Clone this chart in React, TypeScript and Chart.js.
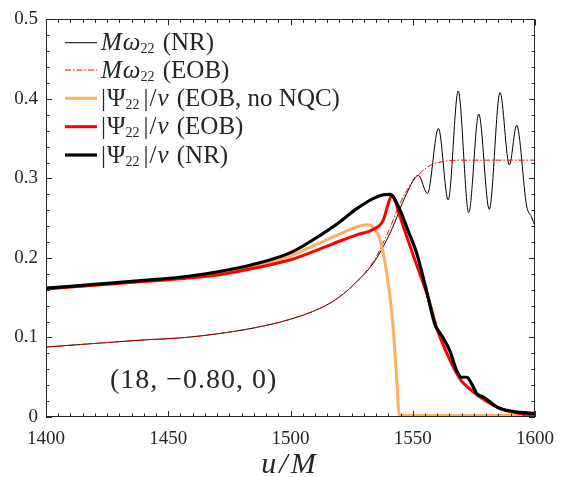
import React, { useEffect, useRef } from 'react';
import { Chart, registerables } from 'chart.js';

Chart.register(...registerables);

// ---------- data ----------
const omegaNRU = [1400, 1420, 1442.5, 1455, 1471, 1485, 1500, 1513, 1520, 1527, 1534, 1541, 1547.5, 1552.3, 1556, 1560.5, 1564.5, 1568.6, 1572.9, 1577, 1581.3, 1585.7, 1589.5, 1592.5, 1596.6, 1598.5, 1600];
const omegaNRV = [0.088, 0.0925, 0.0974, 0.0994, 0.105, 0.112, 0.123, 0.138, 0.151, 0.170, 0.194, 0.233, 0.281, 0.304, 0.281, 0.363, 0.273, 0.410, 0.257, 0.381, 0.261, 0.408, 0.317, 0.367, 0.265, 0.252, 0.240];

const omegaEOBU = [1400, 1420, 1442.5, 1455, 1471, 1485, 1500, 1513, 1520, 1527, 1534, 1540.7, 1544.8, 1550.2, 1557, 1563.9, 1570, 1580, 1600];
const omegaEOBV = [0.088, 0.0925, 0.0974, 0.0994, 0.105, 0.112, 0.123, 0.138, 0.151, 0.170, 0.196, 0.238, 0.269, 0.297, 0.316, 0.322, 0.323, 0.323, 0.323];

const psiNoNQCU = [1400, 1425, 1442.5, 1455, 1471, 1485, 1500, 1513.4, 1520, 1527.1, 1531.2, 1534, 1536.6, 1539.3, 1541.4, 1542.3, 1543.5, 1544.5, 1550, 1600];
const psiNoNQCV = [0.161, 0.167, 0.171, 0.1745, 0.180, 0.189, 0.2026, 0.221, 0.230, 0.239, 0.2417, 0.238, 0.223, 0.182, 0.132, 0.099, 0.045, 0.002, 0.002, 0.002];

const psiEOBU = [1400, 1425, 1442.5, 1455, 1471, 1485, 1500, 1513.4, 1520, 1527.1, 1533.9, 1538, 1540, 1541.4, 1542.6, 1544.8, 1550, 1556.4, 1559.8, 1565, 1569.3, 1575, 1580, 1585.7, 1593, 1600];
const psiEOBV = [0.161, 0.167, 0.171, 0.174, 0.179, 0.187, 0.1977, 0.213, 0.221, 0.229, 0.236, 0.248, 0.2686, 0.279, 0.274, 0.252, 0.205, 0.149, 0.112, 0.073, 0.048, 0.031, 0.020, 0.0107, 0.005, 0.0016];

const psiNRU = [1400, 1425, 1442.5, 1455, 1471, 1485, 1500, 1513.4, 1520, 1527.1, 1534, 1538, 1540.7, 1544.8, 1548, 1551.5, 1555.7, 1559.1, 1561.1, 1563.2, 1565.2, 1568, 1570, 1572.1, 1574.1, 1576.2, 1578.9, 1581.6, 1584.3, 1587, 1593.9, 1600];
const psiNRV = [0.162, 0.168, 0.1725, 0.1757, 0.183, 0.192, 0.2067, 0.231, 0.245, 0.262, 0.275, 0.2795, 0.280, 0.260, 0.235, 0.207, 0.158, 0.116, 0.1056, 0.0953, 0.083, 0.058, 0.050, 0.050, 0.0417, 0.0293, 0.025, 0.019, 0.0128, 0.0095, 0.0058, 0.0046];

const xTickValues = [1400, 1450, 1500, 1550, 1600];
const yTickValues = [0, 0.1, 0.2, 0.3, 0.4, 0.5];

type Part = { t: string; it?: boolean; sub?: boolean; gap?: number };
const legendNames: Part[][] = [
  [{ t: 'M', it: true, gap: 1 }, { t: 'ω', it: true }, { t: '22', sub: true, gap: 2 }, { t: ' (NR)' }],
  [{ t: 'M', it: true, gap: 1 }, { t: 'ω', it: true }, { t: '22', sub: true, gap: 2 }, { t: ' (EOB)' }],
  [{ t: '|', gap: 1 }, { t: 'Ψ' }, { t: '22', sub: true, gap: 4 }, { t: '|', gap: 1 }, { t: '/', gap: 1 }, { t: 'ν', it: true, gap: 2 }, { t: ' (EOB, no NQC)' }],
  [{ t: '|', gap: 1 }, { t: 'Ψ' }, { t: '22', sub: true, gap: 4 }, { t: '|', gap: 1 }, { t: '/', gap: 1 }, { t: 'ν', it: true, gap: 2 }, { t: ' (EOB)' }],
  [{ t: '|', gap: 1 }, { t: 'Ψ' }, { t: '22', sub: true, gap: 4 }, { t: '|', gap: 1 }, { t: '/', gap: 1 }, { t: 'ν', it: true, gap: 2 }, { t: ' (NR)' }],
];
const annotationText = '(18, −0.80, 0)';
const xTitle = 'u/M';

const SERIF = '"Liberation Serif", "Times New Roman", serif';
const FRAME = '#262626';
const ORANGE = 'rgb(255,175,95)';

const styles = [
  { color: '#000000', width: 1, dash: [] as number[] },
  { color: '#ff0000', width: 1, dash: [6, 2, 1.5, 2] },
  { color: ORANGE, width: 3, dash: [] as number[] },
  { color: '#ff0000', width: 3, dash: [] as number[] },
  { color: '#000000', width: 3.2, dash: [] as number[] },
];

const zip = (u: number[], v: number[]) => u.map((x, i) => ({ x, y: v[i] }));

const decorPlugin = {
  id: 'decor',
  afterDraw(chart: any) {
    const { ctx, chartArea, scales } = chart;
    const { left, right, top, bottom } = chartArea;
    const xs = scales.x;
    const ys = scales.y;
    ctx.save();
    ctx.strokeStyle = FRAME;
    ctx.lineWidth = 1;
    ctx.setLineDash([]);
    ctx.strokeRect(Math.round(left) + 0.5, Math.round(top) + 0.5, Math.round(right - left) - 1, Math.round(bottom - top) - 1);
    ctx.beginPath();
    for (let v = 1400; v <= 1600; v += 5) {
      const p = Math.round(xs.getPixelForValue(v)) + 0.5;
      const len = v % 50 === 0 ? 6 : 3.5;
      ctx.moveTo(p, bottom); ctx.lineTo(p, bottom - len);
      ctx.moveTo(p, top); ctx.lineTo(p, top + len);
    }
    for (let i = 0; i <= 25; i++) {
      const v = i * 0.02;
      const p = Math.round(ys.getPixelForValue(v)) + 0.5;
      const len = i % 5 === 0 ? 6 : 3.5;
      ctx.moveTo(left, p); ctx.lineTo(left + len, p);
      ctx.moveTo(right, p); ctx.lineTo(right - len, p);
    }
    ctx.stroke();

    // legend
    const rowY = [42.7, 70, 98.3, 126.7, 155];
    legendNames.forEach((parts, i) => {
      const st = styles[i];
      const yy = rowY[i];
      ctx.beginPath();
      ctx.strokeStyle = st.color;
      ctx.lineWidth = st.width;
      ctx.setLineDash(st.dash);
      ctx.moveTo(65, yy); ctx.lineTo(97, yy);
      ctx.stroke();
      ctx.setLineDash([]);
      let x = 101;
      const base = yy + 7.7;
      ctx.fillStyle = FRAME;
      ctx.textBaseline = 'alphabetic';
      ctx.textAlign = 'left';
      parts.forEach((p) => {
        const size = p.sub ? 14 : 25;
        ctx.font = `${p.it ? 'italic ' : ''}${size}px ${SERIF}`;
        const yb = p.sub ? base + 3 : base;
        ctx.fillText(p.t, x, yb);
        x += ctx.measureText(p.t).width + (p.gap || 0);
      });
    });

    // annotation
    ctx.fillStyle = FRAME;
    ctx.font = `28px ${SERIF}`;
    (ctx as any).letterSpacing = '1px';
    ctx.fillText(annotationText, 110, 388);

    // x title
    ctx.font = `italic 30px ${SERIF}`;
    (ctx as any).letterSpacing = '3px';
    ctx.textAlign = 'center';
    ctx.fillText(xTitle, 290, 473);
    (ctx as any).letterSpacing = '0px';
    ctx.restore();
  },
};

export default function App() {
  const ref = useRef<HTMLCanvasElement | null>(null);
  useEffect(() => {
    document.body.style.margin = '0';
    const canvas = ref.current!;
    const series = [
      { u: psiNRU, v: psiNRV, st: styles[4], order: 1 },
      { u: psiEOBU, v: psiEOBV, st: styles[3], order: 2 },
      { u: psiNoNQCU, v: psiNoNQCV, st: styles[2], order: 3 },
      { u: omegaEOBU, v: omegaEOBV, st: styles[1], order: 4 },
      { u: omegaNRU, v: omegaNRV, st: styles[0], order: 5 },
    ];
    const chart = new Chart(canvas, {
      type: 'line',
      data: {
        datasets: series.map((s) => ({
          data: zip(s.u, s.v),
          borderColor: s.st.color,
          borderWidth: s.st.width,
          borderDash: s.st.dash,
          pointRadius: 0,
          cubicInterpolationMode: 'monotone' as const,
          fill: false,
          order: s.order,
        })),
      },
      options: {
        responsive: false,
        animation: false,
        devicePixelRatio: 1,
        layout: { padding: { top: 13, right: 31, left: 0, bottom: 0 } },
        plugins: { legend: { display: false }, tooltip: { enabled: false } },
        scales: {
          x: {
            type: 'linear',
            min: 1400,
            max: 1600,
            afterFit: (s: any) => { s.height = 60; },
            afterBuildTicks: (s: any) => { s.ticks = xTickValues.map((v) => ({ value: v })); },
            grid: { display: false, drawTicks: false },
            border: { display: false },
            ticks: {
              font: { family: SERIF, size: 19 },
              color: FRAME,
              padding: 11,
              maxRotation: 0,
              callback: (v: any) => String(v),
            },
          },
          y: {
            type: 'linear',
            min: 0,
            max: 0.5,
            afterFit: (s: any) => { s.width = 46; },
            afterBuildTicks: (s: any) => { s.ticks = yTickValues.map((v) => ({ value: v })); },
            grid: { display: false, drawTicks: false },
            border: { display: false },
            ticks: {
              font: { family: SERIF, size: 19 },
              color: FRAME,
              padding: 8,
              callback: (v: any) => String(Math.round(Number(v) * 10) / 10),
            },
          },
        },
      },
      plugins: [decorPlugin],
    });
    return () => chart.destroy();
  }, []);
  return (
    <div style={{ position: 'absolute', left: 0, top: 0, width: 566, height: 477 }}>
      <canvas ref={ref} width={566} height={477} style={{ width: 566, height: 477 }} />
    </div>
  );
}
